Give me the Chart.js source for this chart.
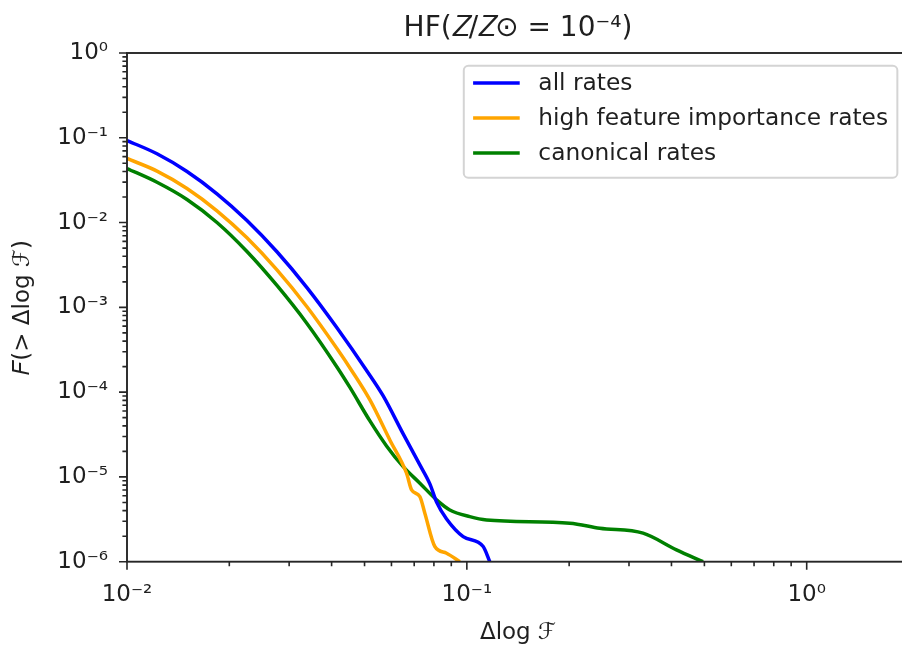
<!DOCTYPE html>
<html><head><meta charset="utf-8">
<script src="https://cdn.jsdelivr.net/npm/chart.js@4/dist/chart.umd.min.js"></script>
<style>
html,body{margin:0;padding:0;background:#fff;overflow:hidden;}
#wrap{width:902px;height:647px;overflow:hidden;position:relative;background:#fff;}
#c{display:block;position:absolute;left:0;top:0;width:912px;height:647px;}
</style></head><body>
<div id="wrap"><canvas id="c" width="912" height="647"></canvas></div>
<script>
// ---- data ----
const seriesNames = ['all rates', 'high feature importance rates', 'canonical rates'];
const seriesColors = ['#0000ff', '#ffa500', '#008000'];

const allX = [0.01, 0.012253, 0.015014, 0.018396, 0.022541, 0.027619, 0.033843, 0.041468, 0.050812, 0.056738, 0.06496, 0.07274, 0.07783, 0.08144, 0.08717, 0.09752, 0.1117, 0.1168];
const allY = [0.0929, 0.06477, 0.04004, 0.02186, 0.010588, 0.004525, 0.001712, 0.000575, 0.0001778, 9.02e-5, 3.215e-5, 1.385e-5, 8.27e-6, 5.07e-6, 3.196e-6, 1.98e-6, 1.51e-6, 1e-6];

const hfX = [0.01, 0.012253, 0.015014, 0.018396, 0.022541, 0.027619, 0.033843, 0.041468, 0.045902, 0.051852, 0.059347, 0.06646, 0.06876, 0.07274, 0.07523, 0.0805, 0.08717, 0.09537];
const hfY = [0.05701, 0.04048, 0.02524, 0.013774, 0.006602, 0.002764, 0.001016, 0.0003267, 0.0001778, 8.09e-5, 2.73e-5, 1.106e-5, 7.03e-6, 5.86e-6, 3.73e-6, 1.51e-6, 1.26e-6, 1e-6];

const canX = [0.01, 0.012253, 0.015014, 0.018396, 0.022541, 0.027619, 0.033843, 0.041468, 0.045285, 0.05185, 0.05803, 0.06496, 0.07274, 0.08144, 0.0891, 0.102, 0.1143, 0.2009, 0.2461, 0.33, 0.4138, 0.4955];
const canY = [0.04345, 0.02987, 0.01873, 0.010028, 0.004563, 0.001813, 0.0006458, 0.0001982, 0.0001136, 4.575e-5, 2.32e-5, 1.32e-5, 8.43e-6, 5.36e-6, 4.08e-6, 3.4e-6, 3.11e-6, 2.85e-6, 2.48e-6, 2.17e-6, 1.38e-6, 1e-6];

const xRange = [0.01, 2];
const yRange = [1e-6, 1];
const xTickExps = [-2, -1, 0];
const xTickLabels = ['10⁻²', '10⁻¹', '10⁰'];
const yTickExps = [-6, -5, -4, -3, -2, -1, 0];
const yTickLabels = ['10⁻⁶', '10⁻⁵', '10⁻⁴', '10⁻³', '10⁻²', '10⁻¹', '10⁰'];

const titleText = 'HF(𝑍/𝑍⊙ = 10⁻⁴)';
const xTitle = 'Δlog ℱ';
const yTitle = '𝐹(> Δlog ℱ)';

// ---- helpers ----
const FONT = "'DejaVu Sans', 'Noto Sans', sans-serif";
const INK = '#1f1f1f';
function pts(xs, ys) { return xs.map((x, i) => ({x: x, y: ys[i]})); }
function logTicks(min, max) {
  const out = [];
  for (let e = Math.floor(Math.log10(min)); e <= Math.ceil(Math.log10(max)); e++) {
    for (let m = 1; m <= 9; m++) {
      const v = m * Math.pow(10, e);
      if (v >= min * (1 - 1e-9) && v <= max * (1 + 1e-9)) out.push({value: v, major: m === 1});
    }
  }
  return out;
}
function labelFor(v, exps, labels) {
  const e = Math.round(Math.log10(v));
  if (Math.abs(v - Math.pow(10, e)) / v > 1e-6) return '';
  const i = exps.indexOf(e);
  return i < 0 ? '' : labels[i];
}

const decor = {
  id: 'decor',
  afterDraw(chart) {
    const {ctx, chartArea: a, scales: {x, y}} = chart;
    ctx.save();
    ctx.strokeStyle = '#262626';
    ctx.lineWidth = 1.9;
    ctx.strokeRect(a.left, a.top, a.right - a.left, a.bottom - a.top);
    ctx.lineWidth = 1.6;
    ctx.beginPath();
    x.ticks.forEach(t => {
      const p = x.getPixelForValue(t.value);
      const L = t.major ? 8 : 4.6;
      ctx.moveTo(p, a.bottom); ctx.lineTo(p, a.bottom + L);
    });
    y.ticks.forEach(t => {
      const p = y.getPixelForValue(t.value);
      const L = t.major ? 8 : 4.6;
      ctx.moveTo(a.left, p); ctx.lineTo(a.left - L, p);
    });
    ctx.stroke();

    // legend (upper right, inside axes)
    const fs = 23.3;
    ctx.font = fs + 'px ' + FONT;
    const ds = chart.data.datasets;
    const tw = Math.max(...ds.map(d => ctx.measureText(d.label).width));
    const pad = 0.4 * fs, hl = 2 * fs, htp = 0.8 * fs;
    const w = pad + hl + htp + tw + pad;
    const h = 2 * pad + ds.length * fs + (ds.length - 1) * 0.5 * fs;
    const right = a.right - 0.5 * fs, top = a.top + 0.55 * fs;
    const left = right - w;
    ctx.beginPath();
    ctx.roundRect(left, top, w, h, 4.5);
    ctx.fillStyle = 'rgba(255,255,255,0.8)';
    ctx.fill();
    ctx.strokeStyle = '#d4d4d4';
    ctx.lineWidth = 2;
    ctx.stroke();
    ds.forEach((d, i) => {
      const cy = top + pad + 0.34 * fs + i * 1.5 * fs;
      ctx.strokeStyle = d.borderColor;
      ctx.lineWidth = 3.5;
      ctx.lineCap = 'butt';
      ctx.beginPath();
      ctx.moveTo(left + pad, cy); ctx.lineTo(left + pad + hl, cy);
      ctx.stroke();
      ctx.fillStyle = INK;
      ctx.textBaseline = 'middle';
      ctx.textAlign = 'left';
      ctx.fillText(d.label, left + pad + hl + htp, cy + 1);
    });
    ctx.restore();
  }
};

const datasets = [
  {label: seriesNames[0], data: pts(allX, allY), borderColor: seriesColors[0]},
  {label: seriesNames[1], data: pts(hfX, hfY), borderColor: seriesColors[1]},
  {label: seriesNames[2], data: pts(canX, canY), borderColor: seriesColors[2]}
].map(d => Object.assign(d, {
  borderWidth: 3.5, pointRadius: 0, fill: false, cubicInterpolationMode: 'monotone',
  borderJoinStyle: 'round', backgroundColor: d.borderColor
}));

new Chart(document.getElementById('c'), {
  type: 'line',
  data: {datasets: datasets},
  plugins: [decor],
  options: {
    responsive: false,
    animation: false,
    events: [],
    layout: {padding: {left: 0, right: 3, top: 0, bottom: 0}},
    plugins: {
      legend: {display: false},
      tooltip: {enabled: false},
      title: {
        display: true, fullSize: false, text: titleText, color: INK,
        font: {family: FONT, size: 28, weight: 'normal'},
        padding: {top: 11.5, bottom: 7.9}
      }
    },
    scales: {
      x: {
        type: 'logarithmic', min: xRange[0], max: xRange[1],
        afterBuildTicks: s => { s.ticks = logTicks(xRange[0], xRange[1]); },
        afterFit: s => { s.height = 85.3; s.paddingRight = 0; s.paddingLeft = 0; },
        grid: {display: false, drawTicks: false},
        border: {display: false},
        ticks: {
          autoSkip: false, maxRotation: 0, padding: 20, color: INK,
          font: {family: FONT, size: 23},
          callback: v => labelFor(v, xTickExps, xTickLabels)
        },
        title: {display: true, text: xTitle, color: INK, font: {family: FONT, size: 23}, padding: {top: 0, bottom: 0}}
      },
      y: {
        type: 'logarithmic', min: yRange[0], max: yRange[1],
        afterBuildTicks: s => { s.ticks = logTicks(yRange[0], yRange[1]); },
        afterFit: s => { s.width = 127; },
        grid: {display: false, drawTicks: false},
        border: {display: false},
        ticks: {
          autoSkip: false, padding: 19, color: INK,
          font: {family: FONT, size: 23},
          callback: v => labelFor(v, yTickExps, yTickLabels)
        },
        title: {display: true, text: yTitle, color: INK, font: {family: FONT, size: 23}, padding: {top: 9, bottom: 0}}
      }
    }
  }
});
</script>
</body></html>
